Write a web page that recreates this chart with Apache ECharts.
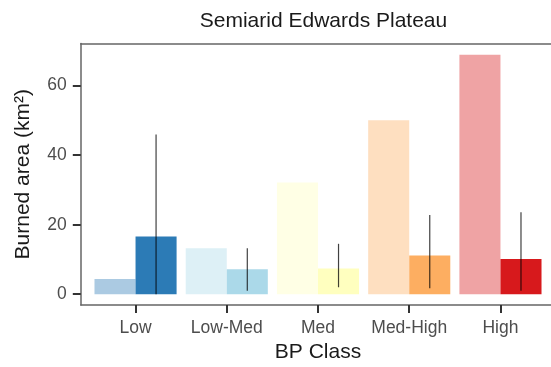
<!DOCTYPE html>
<html>
<head>
<meta charset="utf-8">
<script src="https://cdn.jsdelivr.net/npm/echarts@6/dist/echarts.min.js"></script>
<style>
  html, body { margin: 0; padding: 0; background: #fff; }
  #bp_bar { width: 551px; height: 367px; }
</style>
</head>
<body>
<div id="bp_bar"></div>
<script type="text/javascript">
    // BP classes and burned area values (km2)
    var categories = ['Low', 'Low-Med', 'Med', 'Med-High', 'High'];
    var lightValues = [4.4, 13.2, 32.1, 50.0, 68.9];
    var darkValues = [16.6, 7.2, 7.4, 11.1, 10.1];
    var errLow = [0, 1.0, 2.0, 1.7, 1.0];
    var errHigh = [45.9, 13.2, 14.5, 22.8, 23.6];
    var yTicks = [0, 20, 40, 60];
    var xTicks = [0, 1, 2, 3, 4];

    var darkColors = ['#2C7BB6', '#ABD9E9', '#FFFFBF', '#FDAE61', '#D7191C'];
    var lightColors = ['#ABCAE2', '#DDF0F6', '#FFFFE5', '#FEDFC0', '#EFA3A4'];

    function creatBpBar() {
        var chart = echarts.init(document.getElementById('bp_bar'));
        var font = '"Liberation Sans", Arial, sans-serif';
        var border = { show: true, onZero: false, lineStyle: { color: '#666', width: 1.5 } };

        // x is a numeric axis (class index) so the panel can have ggplot's 0.6 padding
        var lightData = lightValues.map(function (v, i) {
            return { value: [i, v], itemStyle: { color: lightColors[i] } };
        });
        var darkData = darkValues.map(function (v, i) {
            return { value: [i, v], itemStyle: { color: darkColors[i] } };
        });
        var errData = categories.map(function (c, i) {
            return [i, errLow[i], errHigh[i]];
        });

        chart.setOption({
            animation: false,
            title: {
                text: 'Semiarid Edwards Plateau',
                left: 318.5,
                textAlign: 'center',
                top: 6,
                textStyle: { fontFamily: font, fontSize: 21, fontWeight: 'normal', color: '#1a1a1a' }
            },
            // panel runs a little past the right edge, as in the original crop
            grid: {
                left: 80.8, width: 474.4, top: 43.5, height: 261.5,
                outerBoundsMode: 'none'
            },
            xAxis: [{
                type: 'value',
                min: -0.6,
                max: 4.6,
                name: 'BP Class',
                nameLocation: 'middle',
                nameGap: 37,
                nameTextStyle: { fontFamily: font, fontSize: 21, color: '#1a1a1a' },
                axisLine: border,
                splitLine: { show: false },
                axisTick: { show: true, length: 8, customValues: xTicks, lineStyle: { color: '#333', width: 2 } },
                axisLabel: {
                    fontFamily: font, fontSize: 17.5, color: '#4d4d4d', margin: 14,
                    customValues: xTicks,
                    formatter: function (v) { return categories[Math.round(v)]; }
                }
            }, {
                // top edge of the panel
                type: 'value',
                position: 'top',
                min: -0.6,
                max: 4.6,
                axisLine: border,
                splitLine: { show: false },
                axisTick: { show: false },
                axisLabel: { show: false }
            }],
            yAxis: {
                type: 'value',
                min: -3.1,
                max: 72.1,
                name: 'Burned area (km\u00b2)',
                nameLocation: 'middle',
                nameGap: 47,
                nameTextStyle: { fontFamily: font, fontSize: 21, color: '#1a1a1a' },
                axisLine: border,
                splitLine: { show: false },
                axisTick: { show: true, length: 8, customValues: yTicks, lineStyle: { color: '#333', width: 2 } },
                axisLabel: { fontFamily: font, fontSize: 17.5, color: '#4d4d4d', margin: 14, customValues: yTicks }
            },
            series: [
                {
                    type: 'bar',
                    data: lightData,
                    barGap: '0%',
                    barCategoryGap: '10%'
                },
                {
                    type: 'bar',
                    data: darkData,
                    barGap: '0%',
                    barCategoryGap: '10%'
                },
                {
                    type: 'custom',
                    data: errData,
                    encode: { x: 0, y: [1, 2] },
                    z: 10,
                    renderItem: function (params, api) {
                        var idx = api.value(0);
                        var lo = api.coord([idx, api.value(1)]);
                        var hi = api.coord([idx, api.value(2)]);
                        var off = api.size([1, 0])[0] * 0.225;
                        return {
                            type: 'line',
                            shape: { x1: lo[0] + off, y1: lo[1], x2: hi[0] + off, y2: hi[1] },
                            style: { stroke: 'rgba(0,0,0,0.75)', lineWidth: 1.2 }
                        };
                    }
                }
            ]
        });
    }

    creatBpBar();
</script>
</body>
</html>
